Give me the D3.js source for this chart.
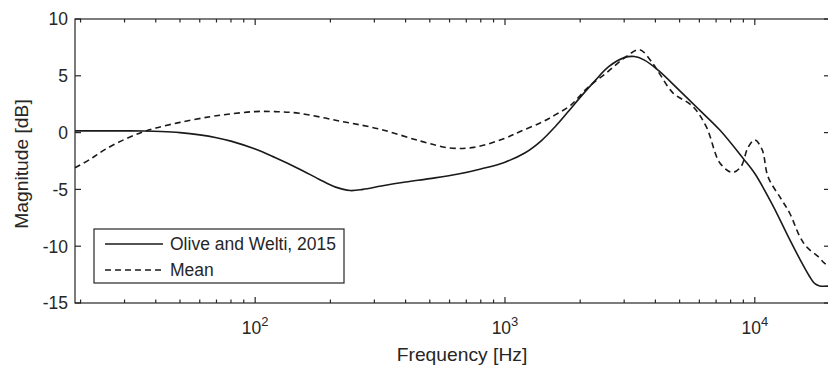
<!DOCTYPE html>
<html>
<head>
<meta charset="utf-8">
<script src="https://cdn.jsdelivr.net/npm/d3@7"></script>
<style>
    body { margin: 0; background: #fff; }
    svg { display: block; font-family: "Liberation Sans", Arial, sans-serif; }
</style>
</head>
<body>
<div id="chart"></div>
<script>
// reference curve (Olive and Welti, 2015)
const oliveFreq = [19, 25, 30, 36, 42, 50, 60, 70, 80, 100, 120, 150, 180, 210, 240, 270, 320, 400, 500, 650, 800, 1000, 1200, 1400, 1600, 1800, 2000, 2300, 2600, 3000, 3300, 3600, 4100, 5000, 6000, 7260, 9000, 10000, 11800, 13500, 15200, 16500, 17400, 18200, 20000];
const oliveDb = [0.15, 0.15, 0.15, 0.14, 0.1, 0.0, -0.2, -0.45, -0.75, -1.45, -2.2, -3.2, -4.1, -4.8, -5.1, -5.0, -4.7, -4.35, -4.05, -3.65, -3.2, -2.6, -1.8, -0.7, 0.6, 1.9, 3.1, 4.6, 5.8, 6.6, 6.7, 6.4, 5.5, 3.7, 2.0, 0.2, -2.3, -3.6, -6.4, -9.0, -11.2, -12.6, -13.3, -13.5, -13.5];

// mean curve
const meanFreq = [19, 22, 25, 30, 35, 40, 50, 66, 80, 100, 120, 150, 220, 316, 460, 600, 750, 1000, 1150, 1400, 1600, 1830, 2130, 2560, 3060, 3460, 3900, 4180, 4700, 5650, 6400, 7260, 8150, 8800, 9400, 10000, 10700, 11300, 12800, 13800, 15180, 16180, 17900, 19000, 20000];
const meanDb = [-3.1, -2.3, -1.5, -0.6, 0.0, 0.4, 0.9, 1.4, 1.65, 1.85, 1.85, 1.7, 1.0, 0.3, -0.75, -1.35, -1.3, -0.5, 0.1, 0.9, 1.6, 2.4, 3.9, 5.3, 6.7, 7.3, 6.1, 5.1, 3.5, 2.3, 0.5, -2.7, -3.5, -3.0, -1.3, -0.65, -1.5, -3.9, -5.9, -7.1, -9.2, -10.1, -10.9, -11.5, -11.8];

const yTicks = [-15, -10, -5, 0, 5, 10];
const xMajorTicks = [100, 1000, 10000];
const xTickExponents = ['2', '3', '4'];
const legendLabels = ['Olive and Welti, 2015', 'Mean'];

const width = 828, height = 369;
const margin = { top: 19, left: 75 };
const plotRight = 830, plotBottom = 303;
const ink = '#262626';

const svg = d3.select('#chart').append('svg')
    .attr('width', width)
    .attr('height', height);

const xScale = d3.scaleLog()
    .domain([19, 20000])
    .range([margin.left, plotRight]);

const yScale = d3.scaleLinear()
    .domain([-15, 10])
    .range([plotBottom, margin.top]);

// minor ticks 20..90, 200..900, ...
const xMinorTicks = [];
[10, 100, 1000, 10000].forEach(dec => {
    for (let k = 2; k <= 9; k++) {
        const v = dec * k;
        if (v >= 19 && v <= 20000) xMinorTicks.push(v);
    }
});

const axes = svg.append('g').attr('stroke', ink).attr('stroke-width', 1.2);

// box
axes.append('rect')
    .attr('x', margin.left)
    .attr('y', margin.top)
    .attr('width', plotRight - margin.left)
    .attr('height', plotBottom - margin.top)
    .attr('fill', 'none');

// x ticks, bottom and top, pointing in
xMajorTicks.forEach(v => {
    const x = xScale(v);
    axes.append('line').attr('x1', x).attr('x2', x).attr('y1', plotBottom).attr('y2', plotBottom - 6);
    axes.append('line').attr('x1', x).attr('x2', x).attr('y1', margin.top).attr('y2', margin.top + 6);
});
xMinorTicks.forEach(v => {
    const x = xScale(v);
    axes.append('line').attr('x1', x).attr('x2', x).attr('y1', plotBottom).attr('y2', plotBottom - 3.5);
    axes.append('line').attr('x1', x).attr('x2', x).attr('y1', margin.top).attr('y2', margin.top + 3.5);
});

// y ticks, left and right
yTicks.forEach(v => {
    const y = yScale(v);
    axes.append('line').attr('x1', margin.left).attr('x2', margin.left + 6).attr('y1', y).attr('y2', y);
    axes.append('line').attr('x1', plotRight).attr('x2', plotRight - 6).attr('y1', y).attr('y2', y);
});

// tick labels
svg.selectAll('.ytick-label')
    .data(yTicks)
    .join('text')
    .attr('class', 'ytick-label')
    .attr('x', 68)
    .attr('y', d => yScale(d))
    .attr('dy', '0.36em')
    .attr('text-anchor', 'end')
    .attr('fill', ink)
    .style('font-size', '17.5px')
    .text(d => d);

const xLabels = svg.selectAll('.xtick-label')
    .data(xMajorTicks)
    .join('text')
    .attr('class', 'xtick-label')
    .attr('x', d => xScale(d))
    .attr('y', 334)
    .attr('text-anchor', 'middle')
    .attr('fill', ink)
    .style('font-size', '17.5px');
xLabels.append('tspan').text('10');
xLabels.append('tspan')
    .attr('dy', -8)
    .style('font-size', '13px')
    .text((d, i) => xTickExponents[i]);

// axis titles
svg.append('text')
    .attr('x', 462)
    .attr('y', 361)
    .attr('text-anchor', 'middle')
    .attr('fill', ink)
    .style('font-size', '19.25px')
    .text('Frequency [Hz]');

svg.append('text')
    .attr('transform', 'translate(28,164) rotate(-90)')
    .attr('text-anchor', 'middle')
    .attr('fill', ink)
    .style('font-size', '19.25px')
    .text('Magnitude [dB]');

// curves
const line = d3.line()
    .x(d => xScale(d[0]))
    .y(d => yScale(d[1]))
    .curve(d3.curveCatmullRom.alpha(0.5));

const plot = svg.append('g');
plot.append('path')
    .datum(d3.zip(oliveFreq, oliveDb))
    .attr('d', line)
    .attr('fill', 'none')
    .attr('stroke', '#1a1a1a')
    .attr('stroke-width', 1.6);

plot.append('path')
    .datum(d3.zip(meanFreq, meanDb))
    .attr('d', line)
    .attr('fill', 'none')
    .attr('stroke', '#1a1a1a')
    .attr('stroke-width', 1.6)
    .attr('stroke-dasharray', '6,4');

// legend
const legend = svg.append('g');
legend.append('rect')
    .attr('x', 94)
    .attr('y', 229)
    .attr('width', 250)
    .attr('height', 54)
    .attr('fill', '#fff')
    .attr('stroke', ink)
    .attr('stroke-width', 1.2);

legendLabels.forEach((label, i) => {
    const y = 244 + i * 26;
    legend.append('line')
        .attr('x1', 105).attr('x2', 163)
        .attr('y1', y).attr('y2', y)
        .attr('stroke', '#1a1a1a')
        .attr('stroke-width', 1.6)
        .attr('stroke-dasharray', i === 1 ? '6,4' : null);
    legend.append('text')
        .attr('x', 170)
        .attr('y', y)
        .attr('dy', '0.36em')
        .attr('fill', ink)
        .style('font-size', '17.5px')
        .text(label);
});
</script>
</body>
</html>
